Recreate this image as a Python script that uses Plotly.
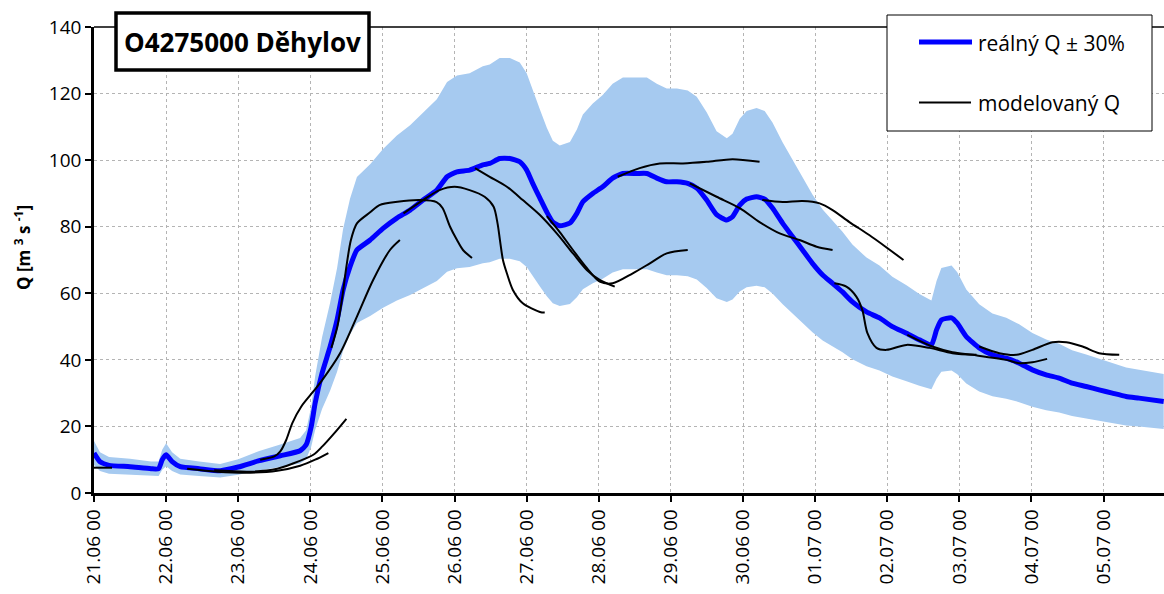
import pandas as pd
import plotly.graph_objects as go

# ---------------- data (hours after 21.06.2009 00:00) ----------------
BASE = pd.Timestamp("2009-06-21 00:00")

real_h = [0, 2, 5, 12, 19, 21.5, 22.7, 24, 26, 28.7, 35, 42, 48, 55, 62, 68.6,
          70.6, 72.3, 73.6, 75.9, 78.6, 80.9, 82.9, 85.2, 87.5, 91.9, 96.2,
          100.8, 105.2, 109.5, 114.1, 117.5, 120.8, 125, 129.4, 131.7, 135,
          138.4, 141.7, 144, 146, 148.4, 150.7, 152.7, 155, 158.4, 160.7,
          162.7, 166, 169.3, 172.6, 176, 180.6, 184, 187.3, 190.6, 194, 197.6,
          200.6, 203.9, 207.2, 210.6, 212.5, 214.9, 217.2, 220.5, 223.2,
          225.8, 229.2, 232.5, 235.8, 239.1, 242.5, 245.8, 249.1, 252.4,
          257.1, 261.4, 265.7, 270.4, 274.7, 278.7, 280.4, 282, 285.4, 287.3,
          290.3, 294.6, 299, 303.6, 307.9, 312.3, 316.9, 321.2, 325.5, 330.2,
          334.5, 338.9, 343.5, 347.8, 356]
real_q = [12, 9.4, 8.3, 7.9, 7.3, 7.3, 10, 11.5, 9.4, 7.9, 7.3, 6.7, 7.8, 9.7,
          11.2, 12.7, 14.5, 20, 27, 36, 44, 52, 61, 68, 73, 76, 79.5, 82.6,
          85, 88, 91, 95, 96.5, 97, 98.6, 99, 100.5, 100.5, 99.5, 97, 93,
          88.6, 84.4, 81.4, 80.3, 81.1, 84, 87.5, 90, 92, 94.6, 96, 96, 96,
          94.6, 93.5, 93.5, 93, 91.6, 88, 83.6, 82, 83, 86.5, 88.3, 89, 88.3,
          85.6, 81, 77, 73, 69, 65.5, 63, 60.4, 57.4, 54.4, 52.6, 50, 48, 46,
          44.5, 49, 52, 52.6, 51, 47, 43.6, 41.5, 40.5, 39, 37, 35.5, 34.5,
          33, 32, 31, 30, 29, 28.5, 27.5]
BAND = 0.30  # reálný Q ± 30 %

# modelled (forecast) runs: hours and Q
fc_tail_h = [0, 6]
fc_tail_q = [7.6, 7.6]
fc_2206_h = [31, 41, 52, 61, 68.6, 73.6, 78]
fc_2206_q = [7.3, 6.4, 6.1, 6.7, 8.2, 10, 12]
fc_2206b_h = [40, 52, 61, 66, 73, 76, 80, 84]
fc_2206b_q = [6.8, 6.4, 7.3, 8.8, 11.5, 14, 18, 22.3]
fc_2306_h = [55.3, 60, 62, 64, 66, 69, 73, 76, 81.9, 87.5, 92.9, 98.5, 101.8]
fc_2306_q = [10, 11, 12.5, 16, 21, 26, 30.5, 34, 42, 53, 64, 73, 76]
fc_2406_h = [79, 81, 82.5, 84, 85.5, 87.5, 92, 95, 101, 108.5, 114, 116, 118.5,
             120.8, 122.8, 125.8]
fc_2406_q = [43.6, 50, 58, 68, 76, 81, 84.4, 86.5, 87.5, 88, 87.4, 85.6, 80,
             76, 73, 70.6]
fc_2506_h = [103, 109.5, 115, 120, 125, 130, 133, 134.3, 135.1, 136.1, 137.4,
             139.4, 142.7, 148.4, 150]
fc_2506_q = [84, 88, 91, 92, 91, 89, 86, 81, 76, 70, 66, 61, 57, 54.4, 54.2]
fc_2606_h = [126.8, 131.7, 137.4, 142.7, 148.4, 154, 159.4, 164, 168.3, 173.3]
fc_2606_q = [97.6, 95, 92, 88, 83.5, 78, 72, 67, 64, 62]
fc_2706_h = [150.7, 155, 159.4, 164, 168.3, 172.6, 179.3, 185, 190.6, 197.6]
fc_2706_q = [83.2, 78.4, 73, 67.6, 63.5, 63, 66, 69, 72, 73]
fc_2806_h = [174.3, 181.6, 188.3, 196, 203.9, 212.5, 221.5]
fc_2806_q = [95, 97.6, 99, 99, 99.5, 100.3, 99.5]
fc_2906_h = [198.3, 207.2, 214.9, 221.5, 228.2, 234.8, 240.5, 245.8]
fc_2906_q = [93, 89, 85.6, 81.4, 78, 76, 74, 73]
fc_3006_h = [222.4, 229.2, 235.8, 241.5, 245.8, 251.4, 258, 264, 269.4]
fc_3006_q = [88, 87.4, 87.7, 87, 85, 81.4, 77.5, 73.6, 70]
fc_0107_h = [246.4, 250.4, 253.7, 255.7, 257.4, 260.4, 263.8, 270.4, 278,
             285.7, 293.7]
fc_0107_q = [63, 62, 59, 55, 48, 43.6, 43, 44.5, 43.6, 42, 41.5]
fc_0207_h = [270.7, 279, 285.7, 292.3, 303.6, 307.9, 312.3, 317.2]
fc_0207_q = [47.5, 44, 42.3, 41.5, 40, 39, 39.3, 40.3]
fc_0307_h = [294.6, 301.3, 307, 312.3, 319, 323.6, 329, 334.5, 341.2]
fc_0307_q = [44, 42, 41.5, 43, 45.3, 45.3, 44, 42, 41.5]

forecasts = [(fc_tail_h, fc_tail_q), (fc_2206_h, fc_2206_q),
             (fc_2206b_h, fc_2206b_q), (fc_2306_h, fc_2306_q),
             (fc_2406_h, fc_2406_q), (fc_2506_h, fc_2506_q),
             (fc_2606_h, fc_2606_q), (fc_2706_h, fc_2706_q),
             (fc_2806_h, fc_2806_q), (fc_2906_h, fc_2906_q),
             (fc_3006_h, fc_3006_q), (fc_0107_h, fc_0107_q),
             (fc_0207_h, fc_0207_q), (fc_0307_h, fc_0307_q)]

title_text = "O4275000 Děhylov"
legend_real = "reálný Q ± 30%"
legend_model = "modelovaný Q"
y_title = "Q [m <sup>3</sup> s <sup>-1</sup>]"

assert len(real_h) == len(real_q)
for h, q in forecasts:
    assert len(h) == len(q)


def to_dt(hours):
    return [BASE + pd.Timedelta(hours=float(v)) for v in hours]


# ---------------- figure ----------------
FONT = "Open Sans"
BLUE_FILL = "rgb(166,202,240)"

fig = go.Figure()
real_x = to_dt(real_h)
lower = [q * (1 - BAND) for q in real_q]
upper = [q * (1 + BAND) for q in real_q]

fig.add_trace(go.Scatter(x=real_x, y=lower, mode="lines",
                         line=dict(width=0, color=BLUE_FILL),
                         showlegend=False, hoverinfo="skip"))
fig.add_trace(go.Scatter(x=real_x, y=upper, mode="lines", fill="tonexty",
                         fillcolor=BLUE_FILL,
                         line=dict(width=0, color=BLUE_FILL),
                         showlegend=False, hoverinfo="skip"))
fig.add_trace(go.Scatter(x=real_x, y=real_q, mode="lines",
                         line=dict(color="#0000FF", width=5, shape="spline",
                                   smoothing=0.5),
                         showlegend=False, name=legend_real))
for h, q in forecasts:
    fig.add_trace(go.Scatter(x=to_dt(h), y=q, mode="lines",
                             line=dict(color="black", width=2, shape="spline",
                                       smoothing=0.8),
                             showlegend=False, name=legend_model))

L, R, T, B = 94, 0, 27, 101
W, H = 1164, 594
PW, PH = W - L - R, H - T - B


def px(xp):
    return (xp - L) / PW


def py(yp):
    return (H - B - yp) / PH


axis_common = dict(showline=True, linecolor="black", linewidth=2.5,
                   ticks="outside", ticklen=6, tickwidth=2, tickcolor="black",
                   showgrid=True, gridcolor="#B4B4B4", gridwidth=1,
                   griddash="dot", zeroline=False,
                   tickfont=dict(family=FONT, size=19, color="black"))

fig.update_layout(
    width=W, height=H,
    margin=dict(l=L, r=R, t=T, b=B, pad=0),
    paper_bgcolor="white", plot_bgcolor="white",
    showlegend=False,
    xaxis=dict(type="date",
               range=[BASE, BASE + pd.Timedelta(hours=356.1)],
               tick0=BASE, dtick=86400000, tickformat="%d.%m %H",
               tickangle=-90, **axis_common),
    yaxis=dict(range=[0, 140], dtick=20, **axis_common),
)

shapes = [
    # top frame line
    dict(type="line", xref="paper", yref="paper", x0=0, x1=1, y0=1, y1=1,
         line=dict(color="black", width=1.5), layer="above"),
    # title box
    dict(type="rect", xref="paper", yref="paper", x0=px(116), x1=px(369),
         y0=py(70), y1=py(13), line=dict(color="black", width=3.5),
         fillcolor="white", layer="above"),
    # legend box
    dict(type="rect", xref="paper", yref="paper", x0=px(887), x1=px(1152),
         y0=py(131), y1=py(15), line=dict(color="black", width=1),
         fillcolor="white", layer="above"),
    dict(type="line", xref="paper", yref="paper", x0=px(919), x1=px(972),
         y0=py(42), y1=py(42), line=dict(color="#0000FF", width=5),
         layer="above"),
    dict(type="line", xref="paper", yref="paper", x0=px(919), x1=px(971),
         y0=py(102.5), y1=py(102.5), line=dict(color="black", width=2),
         layer="above"),
]
fig.update_layout(shapes=shapes)

annotations = [
    dict(text="<b>" + title_text + "</b>", xref="paper", yref="paper",
         x=px(242), y=py(42), xanchor="center", yanchor="middle",
         showarrow=False, font=dict(family=FONT, size=26, color="black")),
    dict(text=legend_real, xref="paper", yref="paper", x=px(976), y=py(43),
         xanchor="left", yanchor="middle", showarrow=False,
         font=dict(family=FONT, size=21, color="black")),
    dict(text=legend_model, xref="paper", yref="paper", x=px(976), y=py(103),
         xanchor="left", yanchor="middle", showarrow=False,
         font=dict(family=FONT, size=21, color="black")),
    dict(text="<b>" + y_title + "</b>", xref="paper", yref="paper",
         x=px(22), y=py(248), xanchor="center", yanchor="middle",
         textangle=-90, showarrow=False,
         font=dict(family=FONT, size=17, color="black")),
]
fig.update_layout(annotations=annotations)

fig.write_html("out.html",
               config={"displayModeBar": False},
               post_script="document.body.style.margin='0px';"
                           "document.body.style.padding='0px';")
